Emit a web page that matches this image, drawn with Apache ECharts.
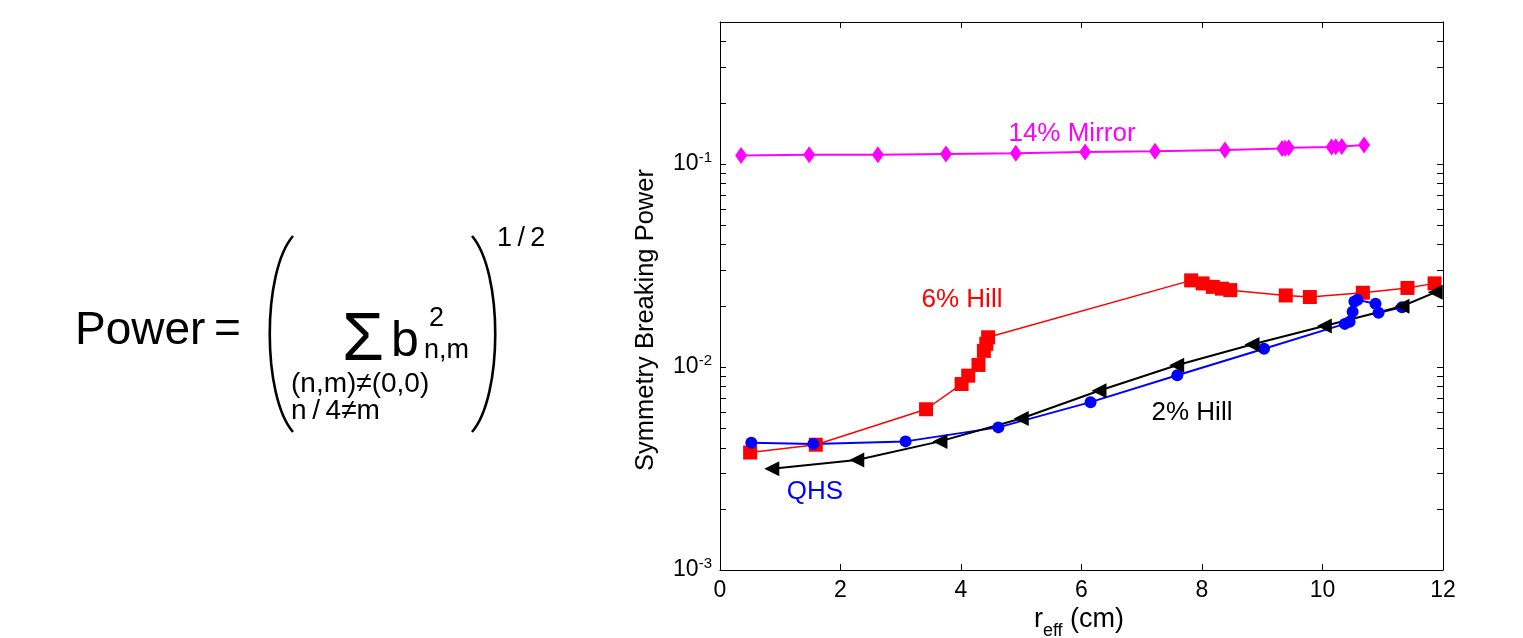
<!DOCTYPE html>
<html>
<head>
<meta charset="utf-8">
<script src="https://cdn.jsdelivr.net/npm/echarts@6/dist/echarts.min.js"></script>
<style>
  html, body { margin: 0; padding: 0; background: #fff; }
  #chart { width: 1523px; height: 638px; }
</style>
</head>
<body>
<div id="chart"></div>
<script>
// r_eff (cm) and symmetry-breaking power for each configuration
const mirrorX = [0.35, 1.48, 2.62, 3.75, 4.91, 6.06, 7.22, 8.38, 9.33, 9.38, 9.44, 10.15, 10.22, 10.32, 10.69];
const mirrorY = [0.110, 0.111, 0.111, 0.112, 0.113, 0.1146, 0.1155, 0.117, 0.119, 0.1195, 0.120, 0.121, 0.1215, 0.122, 0.124];

const hill6X = [0.50, 1.59, 3.42, 4.01, 4.12, 4.29, 4.38, 4.42, 4.45, 7.82, 8.01, 8.18, 8.33, 8.47, 9.39, 9.79, 10.67, 11.41, 11.86];
const hill6Y = [0.00379, 0.00414, 0.00619, 0.00824, 0.00906, 0.01023, 0.0120, 0.0130, 0.0140, 0.0267, 0.0258, 0.0248, 0.0243, 0.0239, 0.0225, 0.0221, 0.0232, 0.0245, 0.0258];

const hill2X = [0.86, 2.27, 3.65, 5.00, 6.29, 7.58, 8.83, 10.03, 11.32, 11.87];
const hill2Y = [0.00315, 0.00348, 0.0043, 0.00557, 0.00763, 0.0102, 0.0129, 0.0159, 0.0199, 0.0233];

const qhsX = [0.52, 1.55, 3.08, 4.62, 6.15, 7.59, 9.03, 10.37, 10.45, 10.50, 10.53, 10.58, 10.88, 10.93, 11.32];
const qhsY = [0.00423, 0.00418, 0.00430, 0.00504, 0.00671, 0.0091, 0.0123, 0.0163, 0.0167, 0.0187, 0.0210, 0.0214, 0.0205, 0.0185, 0.0197];

// axis ticks
const yMajor = [0.001, 0.01, 0.1];
const yMinor = [0.001, 0.002, 0.003, 0.004, 0.005, 0.006, 0.007, 0.008, 0.009,
                0.01, 0.02, 0.03, 0.04, 0.05, 0.06, 0.07, 0.08, 0.09,
                0.1, 0.2, 0.3, 0.4, 0.5];

const FONT = '"Liberation Sans", Arial, Helvetica, sans-serif';

function pairs(xs, ys) { return xs.map((x, i) => [x, ys[i]]); }

const supRich = {
  b: { fontSize: 23, fontFamily: FONT, color: '#000' },
  s: { fontSize: 15, fontFamily: FONT, color: '#000', padding: [0, 0, 13, 0] }
};

function yAxisCfg(pos, labels) {
  return {
    type: 'log', logBase: 10, min: 0.001, max: 0.5, position: pos,
    axisLine: { show: true, onZero: false, lineStyle: { color: '#000', width: 1 } },
    axisTick: { show: true, inside: true, length: 6, customValues: yMinor, lineStyle: { color: '#000', width: 1 } },
    axisLabel: labels ? {
      show: true, customValues: yMajor, margin: 8,
      formatter: v => '{b|10}{s|' + Math.round(Math.log10(v)) + '}',
      rich: supRich
    } : { show: false },
    minorTick: { show: false },
    splitLine: { show: false }
  };
}

function xAxisCfg(pos, labels) {
  return {
    type: 'value', min: 0, max: 12, interval: 2, position: pos,
    axisLine: { show: true, onZero: false, lineStyle: { color: '#000', width: 1 } },
    axisTick: { show: true, inside: true, length: 6, lineStyle: { color: '#000', width: 1 } },
    axisLabel: labels ? { show: true, margin: 9, fontSize: 23, fontFamily: FONT, color: '#000' } : { show: false },
    splitLine: { show: false }
  };
}

function lineSeries(name, xs, ys, color, symbol, size, width, rotate) {
  return {
    name, type: 'line', xAxisIndex: 0, yAxisIndex: 0,
    data: pairs(xs, ys),
    symbol, symbolSize: size, symbolRotate: rotate || 0,
    showSymbol: true, showAllSymbol: true,
    lineStyle: { color, width },
    itemStyle: { color, borderWidth: 0 },
    emphasis: { disabled: true },
    animation: false
  };
}

// text element positioned by the vertical middle of its line box
function txt(x, y, text, size, color, align, extra) {
  return Object.assign({
    type: 'text', x, y, silent: true,
    style: { text, fontSize: size, fontFamily: FONT, fill: color || '#000',
             align: align || 'left', verticalAlign: 'middle' }
  }, extra || {});
}

const chart = echarts.init(document.getElementById('chart'), null, { renderer: 'canvas' });

chart.setOption({
  backgroundColor: '#fff',
  animation: false,
  grid: { left: 720, right: 80, top: 22, bottom: 68, containLabel: false },
  xAxis: [xAxisCfg('bottom', true), xAxisCfg('top', false)],
  yAxis: [yAxisCfg('left', true), yAxisCfg('right', false)],
  series: [
    lineSeries('14% Mirror', mirrorX, mirrorY, '#ff00ff', 'diamond', [12, 17], 2),
    lineSeries('6% Hill', hill6X, hill6Y, '#ff0000', 'rect', 14, 1.5),
    lineSeries('QHS', qhsX, qhsY, '#0000ff', 'circle', 12, 2),
    lineSeries('2% Hill', hill2X, hill2Y, '#000000', 'triangle', [15, 15], 2, 90)
  ],
  graphic: [
    // curve labels
    txt(1072, 134, '14% Mirror', 26, '#ff00ff', 'center'),
    txt(962, 300, '6% Hill', 26, '#ff0000', 'center'),
    txt(1192, 413, '2% Hill', 26, '#000000', 'center'),
    txt(815, 492, 'QHS', 26, '#0000ff', 'center'),
    // axis titles
    txt(646, 320, 'Symmetry Breaking Power', 25.5, '#000', 'center', { rotation: Math.PI / 2 }),
    {
      type: 'text', x: 1079, y: 620, silent: true,
      style: {
        text: '{r|r}{e|eff}{r| (cm)}', align: 'center', verticalAlign: 'middle',
        rich: {
          r: { fontSize: 27, fontFamily: FONT, fill: '#000' },
          e: { fontSize: 18, fontFamily: FONT, fill: '#000', padding: [22, 0, 0, 0] }
        }
      }
    },
    // power definition
    txt(75, 331, 'Power', 46, '#000'),
    txt(214, 330, '=', 46, '#000'),
    { type: 'bezierCurve', silent: true,
      shape: { x1: 293, y1: 236, x2: 293, y2: 432, cpx1: 262, cpy1: 272, cpx2: 262, cpy2: 396 },
      style: { stroke: '#000', lineWidth: 2.6, fill: null } },
    { type: 'bezierCurve', silent: true,
      shape: { x1: 472, y1: 236, x2: 472, y2: 432, cpx1: 503, cpy1: 272, cpx2: 503, cpy2: 396 },
      style: { stroke: '#000', lineWidth: 2.6, fill: null } },
    txt(342, 341, '\u03A3', 68, '#000'),
    txt(391, 342, 'b', 50, '#000'),
    txt(429, 319, '2', 27, '#000'),
    txt(424, 351, 'n,m', 27, '#000'),
    txt(291, 384, '(n,m)\u2260(0,0)', 28, '#000'),
    txt(291, 411, 'n\u2009/\u20094\u2260m', 28, '#000'),
    txt(497, 239, '1\u2009/\u20092', 27, '#000')
  ]
});
</script>
</body>
</html>
